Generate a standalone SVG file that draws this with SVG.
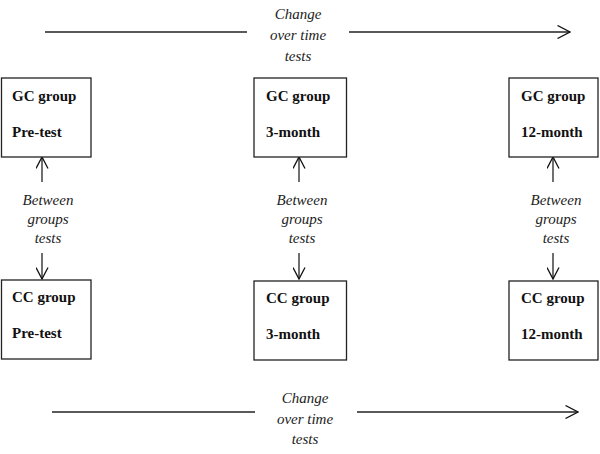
<svg xmlns="http://www.w3.org/2000/svg" width="600" height="454" viewBox="0 0 600 454">
<defs>
<marker id="open" viewBox="0 0 14 14" refX="13" refY="7" markerWidth="14" markerHeight="14" markerUnits="userSpaceOnUse" orient="auto">
<path d="M0.5,0.5 L13,7 L0.5,13.5" fill="none" stroke="#111" stroke-width="1.3"/>
</marker>
<marker id="vopen" viewBox="0 0 13 13" refX="12" refY="6.5" markerWidth="13" markerHeight="13" markerUnits="userSpaceOnUse" orient="auto">
<path d="M0.5,0.5 L12,6.5 L0.5,12.5" fill="none" stroke="#111" stroke-width="1.3"/>
</marker>
</defs>
<style>
.box{fill:#fff;stroke:#222;stroke-width:1.3}
.bt{font-family:"Liberation Serif","Times New Roman",serif;font-weight:bold;font-size:15px;fill:#111}
.it{font-family:"Liberation Serif","Times New Roman",serif;font-style:italic;font-size:15px;fill:#222;text-anchor:middle}
.ln{stroke:#222;stroke-width:1.3;fill:none}
</style>
<rect width="600" height="454" fill="#fff"/>
<g id="connectors">
<line class="ln" x1="45" y1="32" x2="247" y2="32"/>
<line class="ln" x1="349" y1="32" x2="570" y2="32" marker-end="url(#open)"/>
<line class="ln" x1="52" y1="412" x2="255" y2="412"/>
<line class="ln" x1="357" y1="412" x2="578" y2="412" marker-end="url(#open)"/>
<line class="ln" x1="42" y1="182" x2="42" y2="157" marker-end="url(#vopen)"/>
<line class="ln" x1="42" y1="253" x2="42" y2="279" marker-end="url(#vopen)"/>
<line class="ln" x1="299" y1="182" x2="299" y2="157" marker-end="url(#vopen)"/>
<line class="ln" x1="299" y1="253" x2="299" y2="279" marker-end="url(#vopen)"/>
<line class="ln" x1="553" y1="182" x2="553" y2="157" marker-end="url(#vopen)"/>
<line class="ln" x1="553" y1="253" x2="553" y2="279" marker-end="url(#vopen)"/>
</g>
<g id="label-top">
<text class="it" x="298" y="19">Change</text>
<text class="it" x="298" y="40">over time</text>
<text class="it" x="298" y="61">tests</text>
</g>
<g id="label-bottom">
<text class="it" x="305" y="403">Change</text>
<text class="it" x="305" y="424">over time</text>
<text class="it" x="305" y="444">tests</text>
</g>
<g id="label-between-1">
<text class="it" x="48" y="205">Between</text>
<text class="it" x="48" y="224">groups</text>
<text class="it" x="48" y="243">tests</text>
</g>
<g id="label-between-2">
<text class="it" x="302" y="205">Between</text>
<text class="it" x="302" y="224">groups</text>
<text class="it" x="302" y="243">tests</text>
</g>
<g id="label-between-3">
<text class="it" x="556" y="205">Between</text>
<text class="it" x="556" y="224">groups</text>
<text class="it" x="556" y="243">tests</text>
</g>
<g id="gc-pre">
<rect class="box" x="1.5" y="78" width="89.5" height="79"/>
<text class="bt" x="12" y="101">GC group</text>
<text class="bt" x="12" y="137">Pre-test</text>
</g>
<g id="gc-3m">
<rect class="box" x="254" y="78" width="92.5" height="79"/>
<text class="bt" x="266" y="101">GC group</text>
<text class="bt" x="266" y="137">3-month</text>
</g>
<g id="gc-12m">
<rect class="box" x="509" y="78" width="89" height="79"/>
<text class="bt" x="521" y="101">GC group</text>
<text class="bt" x="521" y="137">12-month</text>
</g>
<g id="cc-pre">
<rect class="box" x="1.5" y="280" width="89.5" height="79"/>
<text class="bt" x="12" y="302">CC group</text>
<text class="bt" x="12" y="338">Pre-test</text>
</g>
<g id="cc-3m">
<rect class="box" x="254" y="281" width="92.5" height="79"/>
<text class="bt" x="266" y="303">CC group</text>
<text class="bt" x="266" y="339">3-month</text>
</g>
<g id="cc-12m">
<rect class="box" x="509" y="281" width="89" height="79"/>
<text class="bt" x="521" y="303">CC group</text>
<text class="bt" x="521" y="339">12-month</text>
</g>
</svg>
